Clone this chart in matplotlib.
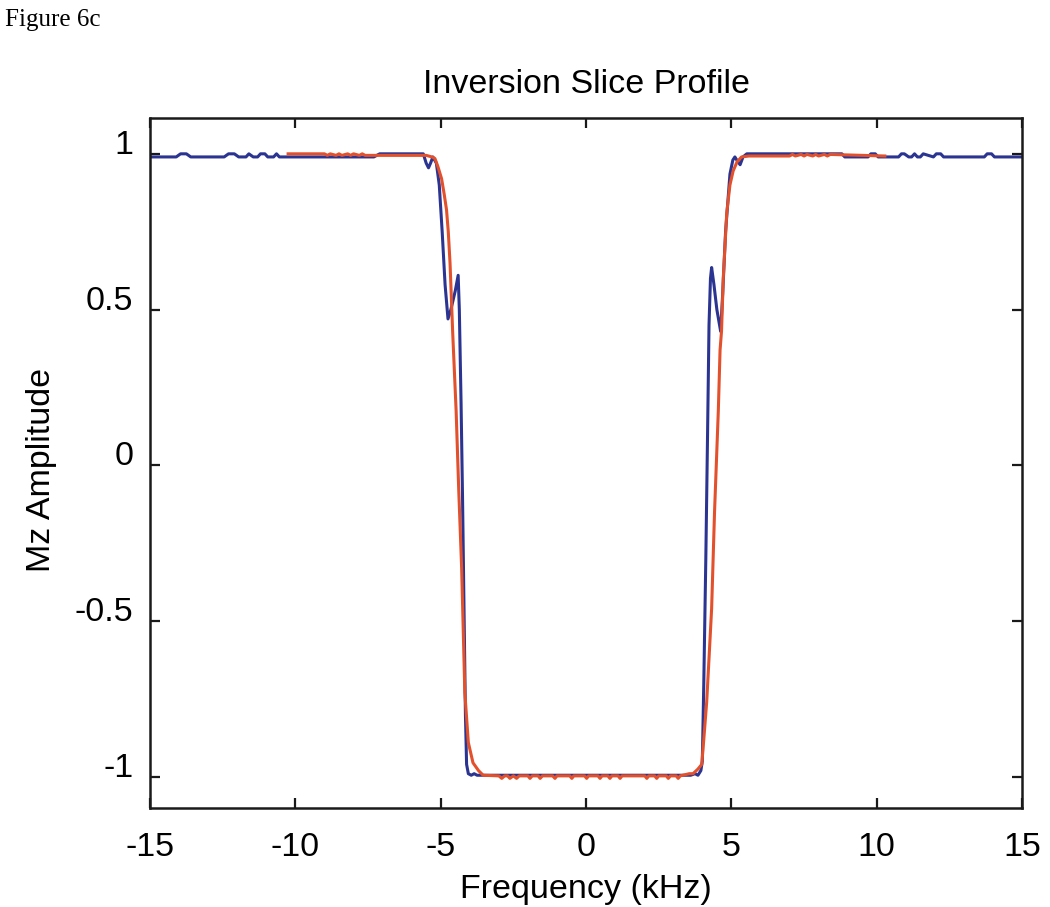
import matplotlib
matplotlib.use("Agg")
import matplotlib.pyplot as plt
import matplotlib.transforms as mtransforms

# ---- data ----
blue_x = [-15.0, -14.1, -13.95, -13.75, -13.6, -12.45, -12.3, -12.1, -11.95,
          -11.7, -11.6, -11.45, -11.3, -11.2, -11.05, -10.95, -10.75, -10.65,
          -10.55, -7.3, -7.1, -5.6, -5.5, -5.42, -5.35, -5.27, -5.15, -5.05,
          -4.95, -4.85, -4.75, -4.65, -4.5, -4.4, -4.36, -4.3, -4.25, -4.2,
          -4.15, -4.11, -4.05, -3.95, -3.85, -3.75, -3.6, -2.0, -1.2, 0.0,
          1.5, 3.0, 3.6, 3.75, 3.85, 3.95, 4.0, 4.05, 4.12, 4.18, 4.23, 4.28,
          4.32, 4.4, 4.5, 4.63, 4.7, 4.8, 4.95, 5.05, 5.12, 5.22, 5.3, 5.4,
          5.53, 8.8, 8.9, 9.7, 9.8, 9.95, 10.05, 10.75, 10.85, 10.95, 11.1,
          11.2, 11.3, 11.4, 11.5, 11.6, 11.95, 12.05, 12.2, 12.3, 13.7, 13.8,
          13.95, 14.05, 15.0]
blue_y = [0.99, 0.99, 1.0, 1.0, 0.99, 0.99, 1.0, 1.0, 0.99,
          0.99, 1.0, 0.99, 0.99, 1.0, 1.0, 0.99, 0.99, 1.0,
          0.99, 0.99, 1.0, 1.0, 0.97, 0.955, 0.97, 0.99, 0.97, 0.9,
          0.75, 0.58, 0.47, 0.5, 0.56, 0.61, 0.5, 0.2, -0.1, -0.45,
          -0.8, -0.96, -0.99, -0.995, -0.99, -0.995, -0.995, -0.995, -0.995, -0.995,
          -0.995, -0.995, -0.995, -0.99, -0.995, -0.98, -0.95, -0.7, -0.3, 0.1, 0.45, 0.6,
          0.635, 0.58, 0.5, 0.43, 0.55, 0.75, 0.935, 0.98, 0.99, 0.975, 0.965, 0.99,
          1.0, 1.0, 0.99, 0.99, 1.0, 1.0, 0.99, 0.99, 1.0, 1.0, 0.99,
          0.99, 1.0, 0.99, 0.99, 1.0, 0.99, 1.0, 1.0, 0.99, 0.99, 1.0,
          1.0, 0.99, 0.99]

red_x = [-10.25, -9.0, -8.9, -8.8, -8.6, -8.5, -8.4, -8.2, -8.1, -8.0, -7.8,
         -7.7, -7.6, -5.5, -5.3, -5.2, -5.1, -4.97, -4.88, -4.8, -4.74, -4.68,
         -4.59, -4.47, -4.38, -4.28, -4.17, -4.05, -3.89, -3.7, -3.54,
         -3.0, -2.9, -2.8, -2.7, -2.62, -2.5, -2.39, -2.3, -2.0, -1.93, -1.85,
         -1.65, -1.58, -1.5, -1.15, -1.07, -1.0, -0.56, -0.49, -0.42, -0.05,
         0.02, 0.09, 0.41, 0.48, 0.55, 0.75, 0.82, 0.89, 1.1, 1.17, 1.24,
         2.02, 2.09, 2.16, 2.36, 2.43, 2.5, 2.76, 2.83, 2.9, 3.1, 3.17, 3.24,
         3.55, 3.68, 3.85, 3.98, 4.05, 4.15, 4.23,
         4.32, 4.42, 4.5, 4.55, 4.61, 4.66, 4.72, 4.84, 4.95, 5.06, 5.2,
         5.35, 5.6, 7.0, 7.1, 7.2, 7.4, 7.5, 7.6, 7.8, 7.9, 8.0, 8.2, 8.3,
         8.4, 10.28]
red_y = [1.0, 1.0, 0.995, 1.0, 0.995, 1.0, 0.995, 1.0, 0.995, 1.0, 0.995,
         1.0, 0.995, 0.995, 0.99, 0.985, 0.96, 0.92, 0.87, 0.82, 0.75, 0.65,
         0.43, 0.175, -0.08, -0.33, -0.73, -0.89, -0.955, -0.98, -0.995,
         -0.997, -1.005, -0.997, -0.997, -1.005, -0.997, -1.005, -0.997, -0.997, -1.005, -0.997,
         -0.997, -1.005, -0.997, -0.997, -1.005, -0.997, -0.997, -1.005, -0.997, -0.997,
         -1.005, -0.997, -0.997, -1.005, -0.997, -0.997, -1.005, -0.997, -0.997, -1.005, -0.997,
         -0.997, -1.005, -0.997, -0.997, -1.005, -0.997, -0.997, -1.005, -0.997, -0.997, -1.005, -0.997,
         -0.99, -0.99, -0.975, -0.96, -0.88, -0.76, -0.62,
         -0.46, -0.15, 0.05, 0.175, 0.37, 0.43, 0.6, 0.81, 0.9, 0.945, 0.975,
         0.99, 0.993, 0.993, 0.998, 0.993, 0.998, 0.993, 0.998, 0.993, 0.998, 0.993, 0.998, 0.993,
         0.998, 0.993]

xticks = [-15, -10, -5, 0, 5, 10, 15]
yticks = [-1, -0.5, 0, 0.5, 1]
ytick_labels = ["-1", "-0.5", "0", "0.5", "1"]

plt.rcParams['font.family'] = ['Liberation Sans', 'DejaVu Sans']

fig = plt.figure(figsize=(10.5, 9.07), dpi=100)
ax = fig.add_axes([0.1429, 0.1092, 0.8305, 0.7607])

ax.plot(blue_x, blue_y, color='#2b3591', lw=2.2, solid_joinstyle='round')
ax.plot(red_x, red_y, color='#e2502c', lw=2.2, solid_joinstyle='round')

ax.set_xlim(-15, 15)
ax.set_ylim(-1.1, 1.115)
ax.set_xticks(xticks)
ax.set_xticklabels([str(t) for t in xticks])
ax.set_yticks(yticks)
ax.set_yticklabels(ytick_labels)

for s in ax.spines.values():
    s.set_linewidth(1.8)
    s.set_color('#1a1a1a')
ax.tick_params(direction='in', top=True, right=True, length=7, width=1.6,
               labelsize=24.5, color='#1a1a1a')
ax.tick_params(axis='x', pad=17)
ax.tick_params(axis='y', pad=12)

offset = mtransforms.ScaledTranslation(0, 0.12, fig.dpi_scale_trans)
for lab in ax.get_yticklabels():
    lab.set_transform(lab.get_transform() + offset)

ax.set_xlabel("Frequency (kHz)", fontsize=24.5)
ax.xaxis.set_label_coords(0.5, -0.118)
ax.xaxis.label.set_va('center')
ax.set_ylabel("Mz Amplitude", fontsize=24.5)
ax.yaxis.set_label_coords(-0.125, 0.49)
ax.yaxis.label.set_va('center')
ax.text(0.5, 1.048, "Inversion Slice Profile", transform=ax.transAxes,
        ha='center', va='center', fontsize=24.5)

fig.text(0.005, 0.978, "Figure 6c", family=['Liberation Serif', 'DejaVu Serif'],
         fontsize=18, ha='left', va='center')

fig.savefig("out.png", dpi=100)
